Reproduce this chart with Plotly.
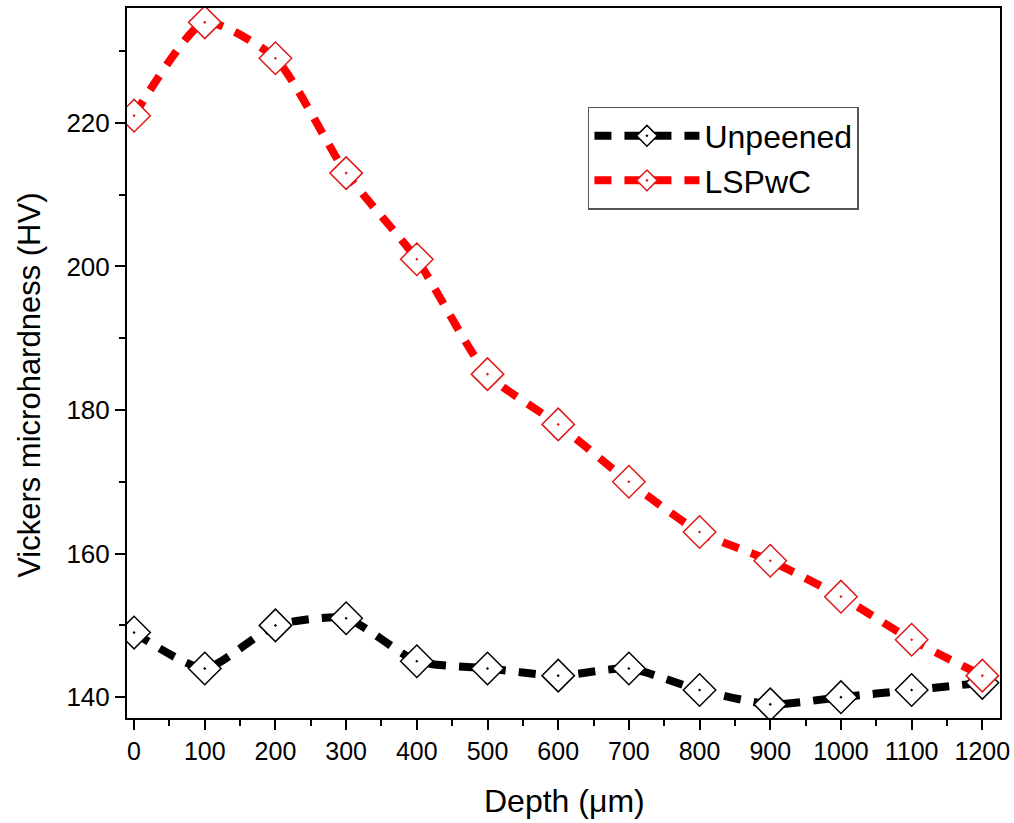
import plotly.graph_objects as go

depth = [0, 100, 200, 300, 400, 500, 600, 700, 800, 900, 1000, 1100, 1200]
unpeened = [149, 144, 150, 151, 145, 144, 143, 144, 141, 139, 140, 141, 142]
lspwc = [221, 234, 229, 213, 201, 185, 178, 170, 163, 159, 154, 148, 143]
x_ticks = list(range(0, 1201, 100))
y_ticks = [140, 160, 180, 200, 220]

FONT = "Liberation Sans, Arial, sans-serif"

fig = go.Figure()
for name, vals, col, mcol in [("Unpeened", unpeened, "black", "black"),
                              ("LSPwC", lspwc, "#ff0000", "#e01818")]:
    fig.add_trace(go.Scatter(
        x=depth, y=vals, name=name, mode="lines+markers",
        line=dict(color=col, width=8, dash="17px,13px", shape="spline", smoothing=0.6),
        marker=dict(symbol="diamond-dot", size=25, color="white",
                    line=dict(color=mcol, width=1.5)),
    ))

fig.update_layout(
    width=1014, height=823,
    margin=dict(l=127, r=14, t=8, b=105, autoexpand=False),
    paper_bgcolor="white", plot_bgcolor="white",
    font=dict(family=FONT, color="black"),
    showlegend=True,
    legend=dict(x=0.528, y=0.8606, xanchor="left", yanchor="top",
                bordercolor="#555555", borderwidth=1.5, bgcolor="white",
                font=dict(size=32, family=FONT), tracegroupgap=0,
                itemwidth=105),
    annotations=[
        dict(text="Vickers microhardness (HV)", xref="paper", yref="paper",
             x=-0.111, y=0.468, xanchor="center", yanchor="middle",
             textangle=-90, showarrow=False, font=dict(size=31, family=FONT)),
        dict(text="Depth (μm)", xref="paper", yref="paper",
             x=0.5006, y=-0.117, xanchor="center", yanchor="middle",
             showarrow=False, font=dict(size=32, family=FONT)),
    ],
)
fig.update_xaxes(
    range=[-10, 1225], tickvals=x_ticks, ticktext=[str(v) for v in x_ticks],
    ticks="outside", ticklen=10, tickwidth=2, tickcolor="black",
    minor=dict(dtick=50, tick0=0, ticks="outside", ticklen=6, tickwidth=2, tickcolor="black"),
    showline=True, linewidth=2, linecolor="black", mirror=True,
    showgrid=False, zeroline=False, automargin=False,
    tickfont=dict(size=25),
)
fig.update_yaxes(
    range=[137.1, 236.0], tickvals=y_ticks,
    ticks="outside", ticklen=10, tickwidth=2, tickcolor="black",
    minor=dict(dtick=10, tick0=140, ticks="outside", ticklen=6, tickwidth=2, tickcolor="black"),
    showline=True, linewidth=2, linecolor="black", mirror=True,
    showgrid=False, zeroline=False, automargin=False,
    tickfont=dict(size=26),
)
fig.write_html("out.html", config={"displayModeBar": False},
               post_script="document.body.style.margin='0';document.body.style.overflow='hidden';")
